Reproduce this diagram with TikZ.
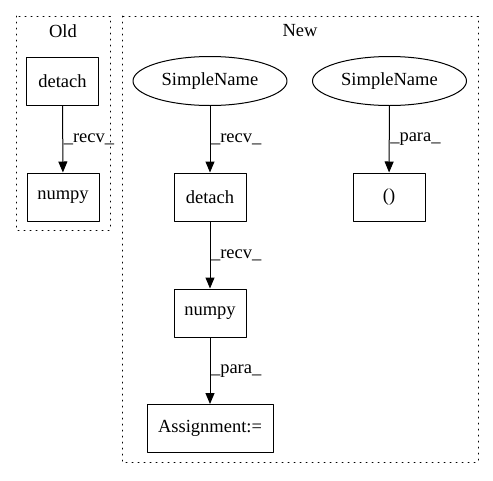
\documentclass[tikz,border=0pt]{standalone}
\usepackage{fontspec}
\setmainfont{Liberation Serif}
\usetikzlibrary{arrows.meta}
\usetikzlibrary{shapes.geometric}

\begin{document}
\begin{tikzpicture}[line cap=round,line join=round,>={Triangle[length=11pt,width=9pt]},x=1pt,y=-1pt,
  font=\fontsize{18.5}{21}\selectfont,
  box/.style={draw,line width=1pt,rectangle,minimum width=72pt,minimum height=48pt,inner sep=2pt},
  oval/.style={draw,line width=1pt,ellipse,minimum width=154pt,minimum height=49pt,inner sep=0pt},
  edge/.style={->,line width=1pt},
  lbl/.style={anchor=west,inner sep=0.5pt},
  cluster/.style={line width=1pt,dash pattern=on 1pt off 5pt}]
\useasboundingbox (0,0) rectangle (493,480);
% clusters
\draw [cluster] (16,16) rectangle (110,230);
\draw [cluster] (122,16) rectangle (478,462);
\node (oldlbl) at (63,31) {Old};
\node (newlbl) at (300,31) {New};
% old
\node [box] (olddetach) at (62.5,81) {detach};
\node [box] (oldnumpy) at (63,197) {numpy};
\draw [edge] (olddetach) -- node[lbl] {\_recv\_} (oldnumpy);
% new
\node [oval] (name1) at (210,81) {SimpleName};
\node [oval] (name2) at (389.5,81) {SimpleName};
\node [box] (detach) at (210,197) {detach};
\node [box] (paren) at (389,197) {()};
\node [box] (numpy) at (210,313) {numpy};
\node [box,minimum width=126pt] (assign) at (210,428.5) {Assignment:=};
\draw [edge] (name1) -- node[lbl] {\_recv\_} (detach);
\draw [edge] (name2) -- node[lbl] {\_para\_} (paren);
\draw [edge] (detach) -- node[lbl] {\_recv\_} (numpy);
\draw [edge] (numpy) -- node[lbl] {\_para\_} (assign);
\end{tikzpicture}
\end{document}
